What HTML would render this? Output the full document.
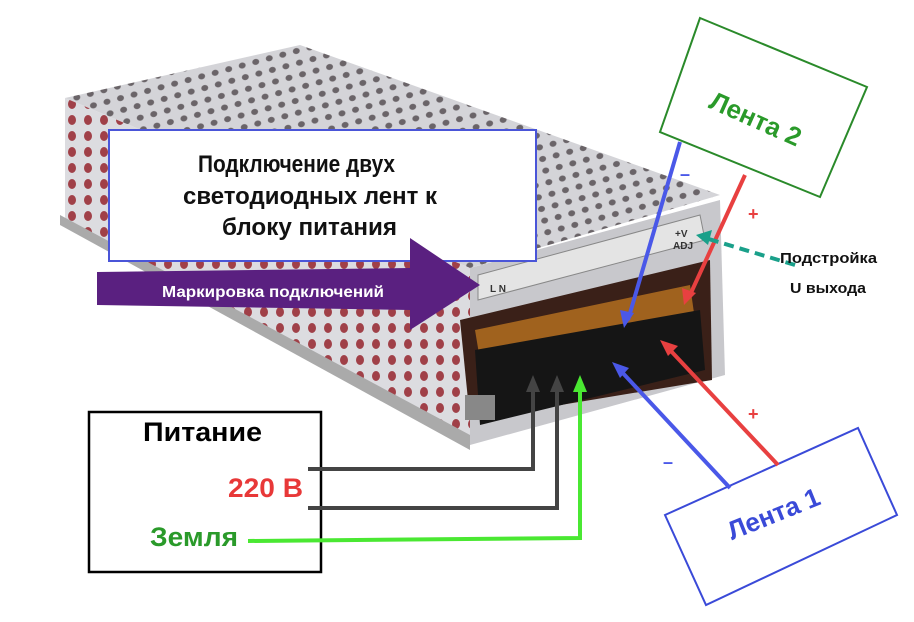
<!DOCTYPE html>
<html><head><meta charset="utf-8"><style>
html,body{margin:0;padding:0;background:#fff;}
svg{display:block;}
text{font-family:"Liberation Sans Narrow","Liberation Sans","DejaVu Sans",sans-serif;font-weight:bold;}
</style></head><body>
<svg width="914" height="622" viewBox="0 0 914 622" xmlns="http://www.w3.org/2000/svg">
<defs>
<pattern id="holes" width="14" height="12" patternUnits="userSpaceOnUse" patternTransform="rotate(-15)">
<rect width="14" height="12" fill="#d4d4d8"/>
<ellipse cx="7" cy="6" rx="3.5" ry="3" fill="#6a6468"/>
</pattern>
<pattern id="holesR" width="16" height="16" patternUnits="userSpaceOnUse">
<rect width="16" height="16" fill="#dcdce0"/>
<ellipse cx="8" cy="8" rx="4" ry="5" fill="#a04048"/>
</pattern>
</defs>
<!-- box -->
<polygon points="65,98 300,45 720,195 470,268" fill="url(#holes)"/>
<polygon points="65,98 470,268 470,440 65,225" fill="url(#holesR)"/>
<polygon points="60,215 470,435 470,450 60,225" fill="#aaa"/>
<polygon points="470,268 720,200 725,375 470,445" fill="#c8c8cc"/>
<polygon points="478,275 700,215 705,240 478,300" fill="#e4e4e4" stroke="#888"/>
<polygon points="460,320 710,260 712,380 470,420" fill="#3a2018"/>
<polygon points="475,330 690,285 695,320 480,360" fill="#a0621e"/>
<polygon points="475,350 700,310 705,370 480,425" fill="#151515"/>
<rect x="465" y="395" width="30" height="25" fill="#888"/>
<text x="490" y="292" font-size="10" font-weight="normal" fill="#333">L N</text>
<text x="675" y="237" font-size="10" font-weight="normal" fill="#333">+V</text>
<text x="673" y="249" font-size="10" font-weight="normal" fill="#333">ADJ</text>
<!-- title box -->
<rect x="109" y="130" width="427" height="131" fill="#fff" stroke="#4a55d8" stroke-width="2"/>
<text x="198" y="172" font-size="24" textLength="197" lengthAdjust="spacingAndGlyphs" fill="#111">Подключение двух</text>
<text x="183" y="204" font-size="24" textLength="254" lengthAdjust="spacingAndGlyphs" fill="#111">светодиодных лент к</text>
<text x="222" y="235" font-size="24" textLength="175" lengthAdjust="spacingAndGlyphs" fill="#111">блоку питания</text>
<!-- purple arrow -->
<polygon points="97,272 410,268 410,238 480,285 410,330 410,310 97,305" fill="#5a2080"/>
<text x="162" y="297" font-size="16" font-weight="normal" textLength="222" lengthAdjust="spacingAndGlyphs" fill="#fff">Маркировка подключений</text>
<!-- Лента 2 -->
<polygon points="700,18 867,87 820,197 660,132" fill="#fff" stroke="#2a8a2a" stroke-width="2"/>
<text x="752" y="127" font-size="26" fill="#2a9a2a" transform="rotate(24 752 127)" text-anchor="middle">Лента 2</text>
<!-- Лента 1 -->
<polygon points="665,515 858,428 897,515 706,605" fill="#fff" stroke="#3a4ad8" stroke-width="2"/>
<text x="777" y="522" font-size="26" fill="#3a4ad8" transform="rotate(-22 777 522)" text-anchor="middle">Лента 1</text>
<!-- Питание -->
<rect x="89" y="412" width="232" height="160" fill="#fff" stroke="#000" stroke-width="2.5"/>
<text x="143" y="441" font-size="27" textLength="119" lengthAdjust="spacingAndGlyphs" fill="#000">Питание</text>
<text x="228" y="497" font-size="27" textLength="75" lengthAdjust="spacingAndGlyphs" fill="#e83838">220 В</text>
<text x="150" y="546" font-size="27" textLength="88" lengthAdjust="spacingAndGlyphs" fill="#2a9a2a">Земля</text>
<!-- wires -->
<g stroke-width="4" fill="none">
<polyline points="308,469 533,469 533,385" stroke="#444"/>
<polyline points="308,508 557,508 557,385" stroke="#444"/>
<polyline points="248,541 580,538 580,385" stroke="#4ae832"/>
<line x1="680" y1="142" x2="628" y2="320" stroke="#4a58e8"/>
<line x1="745" y1="175" x2="690" y2="295" stroke="#e84040"/>
<line x1="730" y1="488" x2="620" y2="370" stroke="#4a58e8"/>
<line x1="778" y1="465" x2="670" y2="350" stroke="#e84040"/>
<line x1="795" y1="265" x2="702" y2="237" stroke="#1aa08a" stroke-dasharray="10,6"/>
</g>
<polygon points="533,375 526,392 540,392" fill="#444"/>
<polygon points="557,375 550,392 564,392" fill="#444"/>
<polygon points="580,375 573,392 587,392" fill="#4ae832"/>
<polygon points="624,328 620,310 634,313" fill="#4a58e8"/>
<polygon points="684,305 682,288 696,293" fill="#e84040"/>
<polygon points="612,362 629,368 620,378" fill="#4a58e8"/>
<polygon points="660,340 678,346 668,356" fill="#e84040"/>
<polygon points="696,235 712,230 708,245" fill="#1aa08a"/>
<text x="680" y="180" font-size="18" font-weight="normal" fill="#4a58e8">–</text>
<text x="748" y="220" font-size="18" font-weight="normal" fill="#e84040">+</text>
<text x="748" y="420" font-size="18" font-weight="normal" fill="#e84040">+</text>
<text x="663" y="468" font-size="18" font-weight="normal" fill="#4a58e8">–</text>
<text x="780" y="263" font-size="15" textLength="97" lengthAdjust="spacingAndGlyphs" fill="#111">Подстройка</text>
<text x="790" y="293" font-size="15" textLength="76" lengthAdjust="spacingAndGlyphs" fill="#111">U выхода</text>
</svg>
</body></html>
